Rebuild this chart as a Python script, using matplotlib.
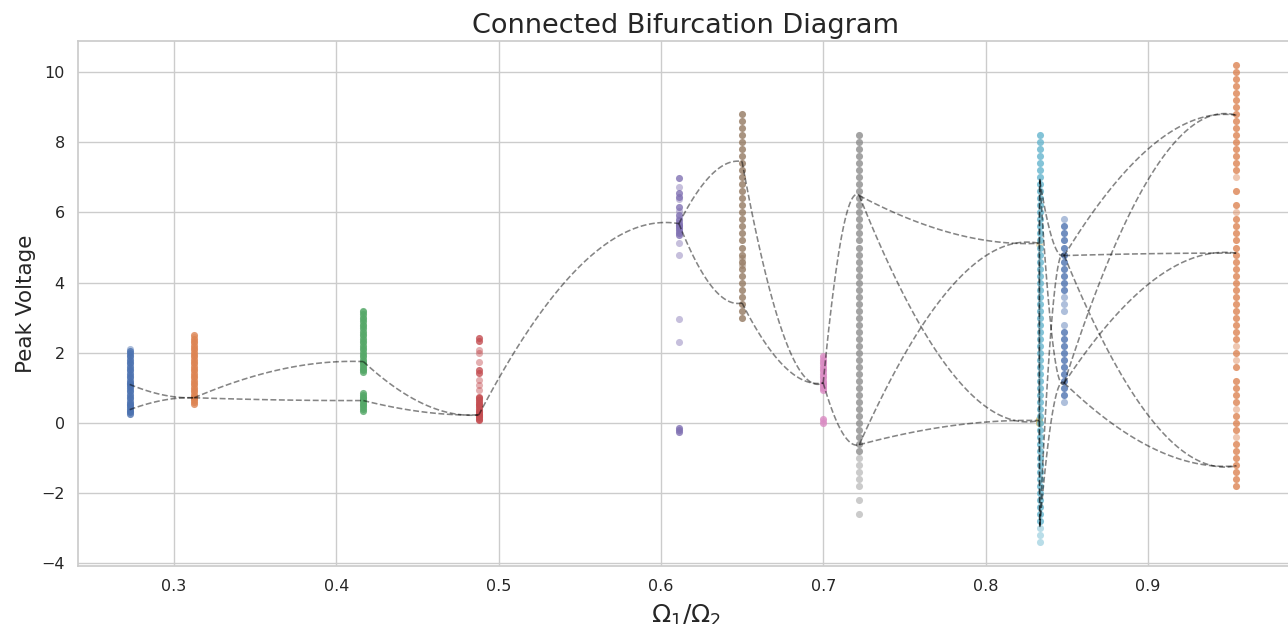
import numpy as np
import matplotlib
matplotlib.use("Agg")
import matplotlib.pyplot as plt
import seaborn as sns

# frequency ratios (one column of peaks each)
ratios = [0.2727, 0.3125, 0.4167, 0.4878, 0.6111, 0.65, 0.7, 0.7222,
          0.8331, 0.8335, 0.8485, 0.9545]
color_idx = [0, 1, 2, 3, 4, 5, 6, 7, 8, 9, 0, 1]

# peak voltages; "solid" = many overlapping samples
solid_peaks = [
    [0.25, 0.3, 0.35, 0.4, 0.45, 0.5, 0.55, 0.6, 0.7, 0.8, 0.9, 1.0, 1.05,
     1.1, 1.15, 1.2, 1.3, 1.4, 1.5, 1.6, 1.7, 1.8, 1.9, 2.0, 2.05],
    [0.55, 0.6, 0.65, 0.7, 0.72, 0.75, 0.8, 0.9, 1.0, 1.1, 1.2, 1.3, 1.4,
     1.5, 1.6, 1.7, 1.8, 1.9, 2.0, 2.1, 2.2, 2.3, 2.4, 2.5],
    [0.35, 0.4, 0.45, 0.5, 0.55, 0.6, 0.65, 0.7, 0.75, 0.8, 0.85,
     1.45, 1.5, 1.55, 1.6, 1.65, 1.7, 1.75, 1.8, 1.9, 2.0, 2.1, 2.2, 2.3,
     2.4, 2.5, 2.6, 2.7, 2.8, 2.9, 3.0, 3.1, 3.2],
    [0.08, 0.12, 0.16, 0.2, 0.23, 0.26, 0.3, 0.35, 0.4, 0.45, 0.5, 0.55,
     0.6, 0.65, 0.7, 0.75, 1.42, 1.5, 2.34, 2.42],
    [-0.25, -0.2, -0.15, 5.36, 5.42, 5.5, 5.55, 5.6, 5.65, 5.7, 5.78,
     5.93, 6.16, 6.45, 6.56, 6.97],
    [3.0, 3.2, 3.4, 3.6, 3.8, 4.0, 4.2, 4.4, 4.6, 4.8, 5.0, 5.2, 5.4, 5.6,
     5.8, 6.0, 6.2, 6.4, 6.6, 6.8, 7.0, 7.2, 7.4, 7.6, 7.8, 8.0, 8.2, 8.4,
     8.6, 8.8],
    [0.0, 0.1, 0.95, 1.0, 1.05, 1.1, 1.15, 1.2, 1.3, 1.4, 1.5, 1.6, 1.7,
     1.8, 1.9],
    [-0.8, -0.6, -0.4, -0.2, 0.0, 0.2, 0.4, 0.6, 0.8, 1.0, 1.2, 1.4, 1.6,
     1.8, 2.0, 2.2, 2.4, 2.6, 2.8, 3.0, 3.2, 3.4, 3.6, 3.8, 4.0, 4.2, 4.4,
     4.6, 4.8, 5.0, 5.2, 5.4, 5.6, 5.8, 6.0, 6.2, 6.4, 6.6, 6.8, 7.0, 7.2,
     7.4, 7.6, 7.8, 8.0, 8.2],
    [0.0, 0.05, 0.1],
    [-2.8, -2.6, -2.4, -2.2, -2.0, -1.8, -1.6, -1.4, -1.2, -1.0, -0.8,
     -0.6, -0.4, -0.2, 0.0, 0.2, 0.4, 0.6, 0.8, 1.0, 1.2, 1.4, 1.6, 1.8,
     2.0, 2.2, 2.4, 2.6, 2.8, 3.0, 3.2, 3.4, 3.6, 3.8, 4.0, 4.2, 4.4, 4.6,
     4.8, 5.0, 5.2, 5.4, 5.6, 5.8, 6.0, 6.2, 6.4, 6.6, 6.8, 7.0, 7.2, 7.4,
     7.6, 7.8, 8.0, 8.2],
    [0.8, 1.0, 1.2, 1.4, 1.6, 1.8, 2.0, 2.2, 2.4, 2.6, 3.8, 4.0, 4.2, 4.4,
     4.6, 4.8, 5.0, 5.2, 5.4, 5.6],
    [10.2, 10.0, 9.8, 9.6, 9.4, 9.2, 9.0, 8.8, 8.6, 8.4, 8.2, 8.0, 7.8,
     7.6, 7.4, 7.2, 6.6, 6.2, 5.8, 5.6, 5.4, 5.2, 5.0, 4.8, 4.6, 4.4, 4.2,
     4.0, 3.8, 3.6, 3.4, 3.2, 3.0, 2.8, 2.6, 2.4, 2.0, 1.6, 1.2, 1.0, 0.8,
     0.6, 0.2, 0.0, -0.2, -0.6, -0.8, -1.0, -1.2, -1.4, -1.6, -1.8],
]

# sparse peaks (single samples, drawn lighter)
faint_peaks = [
    [0.65, 0.75, 0.85, 0.95, 1.25, 1.35, 1.45, 1.55, 1.65, 1.75, 1.85,
     1.95, 2.1],
    [0.85, 0.95, 1.05, 1.15, 1.25, 1.35, 1.45, 1.55, 1.65, 1.75, 1.85,
     1.95, 2.05, 2.15, 2.25, 2.35, 2.45],
    [1.85, 1.95, 2.05, 2.15, 2.25, 2.35, 2.45, 2.55, 2.65, 2.75, 2.85,
     2.95, 3.05, 3.15],
    [0.94, 1.08, 1.22, 1.75, 2.0, 2.08],
    [2.32, 2.96, 4.8, 5.12, 5.45, 5.85, 6.05, 6.38, 6.73],
    [4.5, 4.7],
    [0.05, 1.25, 1.35, 1.45, 1.55, 1.65, 1.75, 1.85],
    [-1.0, -1.2, -1.4, -1.6, -1.8, -2.2, -2.6],
    [5.1],
    [-3.0, -3.2, -3.4],
    [0.6, 2.8, 3.2, 3.4, 3.6, 5.8],
    [7.0, 6.0, 2.2, 1.8, 0.4, -0.4],
]

# branch values that the dashed connectors join
branch_nodes = [
    [1.1, 0.38],
    [0.72],
    [1.75, 0.64],
    [0.23],
    [5.68],
    [7.45, 3.42],
    [1.14],
    [6.48, -0.62],
    [5.12, 0.07],
    [6.9, -2.9],
    [4.77, 1.14],
    [8.77, 4.84, -1.22],
]


def connector(x0, y0, x1, y1, n=80):
    # cubic ease-out: steep start, flat (slightly overshooting) arrival
    t = np.linspace(0, 1, n)
    a, b = 2.0, -0.18
    f = a * (t**3 - 2*t**2 + t) + (3*t**2 - 2*t**3) + b * (t**3 - t**2)
    return x0 + (x1 - x0) * t, y0 + (y1 - y0) * f


sns.set_theme(style="whitegrid")
palette = sns.color_palette("deep")

fig = plt.figure(figsize=(12.88, 6.24), dpi=100)
ax = fig.add_axes([0.0606, 0.0926, 0.944, 0.8415])

for x, ci, sv, fv in zip(ratios, color_idx, solid_peaks, faint_peaks):
    ax.scatter([x] * len(fv), fv, s=26, color=palette[ci], alpha=0.45,
               linewidths=0, zorder=2)
    ax.scatter([x] * len(sv), sv, s=26, color=palette[ci], alpha=0.8,
               linewidths=0, zorder=2)

for i in range(len(ratios) - 1):
    for y0 in branch_nodes[i]:
        for y1 in branch_nodes[i + 1]:
            cx, cy = connector(ratios[i], y0, ratios[i + 1], y1)
            ax.plot(cx, cy, ls="--", color="black", alpha=0.48, lw=1.15,
                    zorder=3)

ax.set_xlim(0.2409, 0.99)
ax.set_ylim(-4.08, 10.88)
ax.set_title("Connected Bifurcation Diagram", fontsize=19.5)
ax.set_xlabel(r"$\Omega_1/\Omega_2$", fontsize=18, labelpad=6)
ax.set_ylabel("Peak Voltage", fontsize=15.5)
ax.tick_params(labelsize=11.5)

plt.savefig("out.png", dpi=100)
plt.close()
